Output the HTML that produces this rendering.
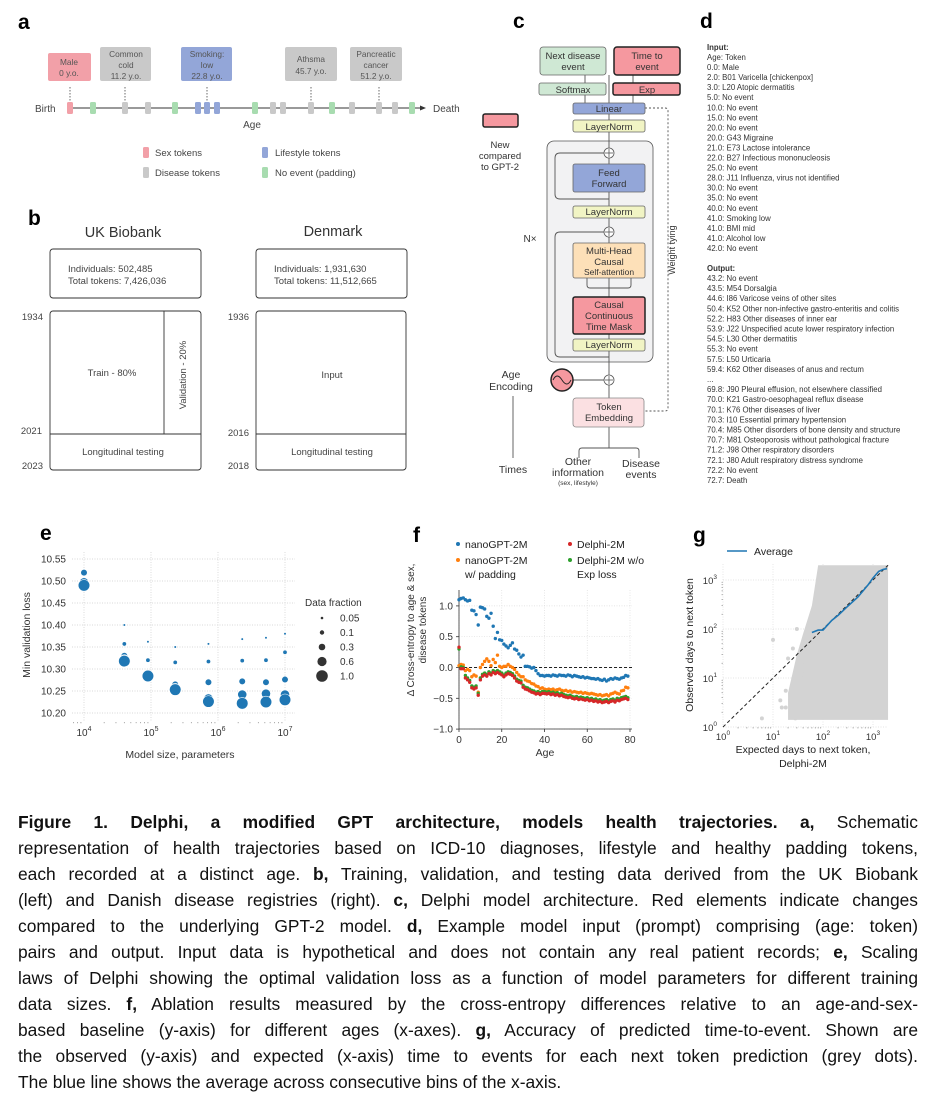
<!DOCTYPE html>
<html><head><meta charset="utf-8">
<style>
html,body{margin:0;padding:0;background:#fff;}
body{width:935px;height:1105px;position:relative;overflow:hidden;font-family:"Liberation Sans",sans-serif;}
svg{position:absolute;left:0;top:0;}
svg text{font-family:"Liberation Sans",sans-serif;}
#caption{position:absolute;left:18px;top:809px;width:900px;font-size:17.4px;line-height:26px;color:#111;}
#caption div{text-align:justify;text-align-last:justify;white-space:nowrap;}
#caption div.last{text-align-last:left;}
</style></head>
<body>
<svg id="fig" width="935" height="800" viewBox="0 0 935 800">
<!-- Panel a -->
<g>
<text x="18" y="29" font-size="21" font-weight="bold">a</text>
<g font-size="8.3" fill="#555" text-anchor="middle">
<rect x="48" y="53" width="43" height="28" rx="2" fill="#f2a0a8"/>
<text x="69" y="65">Male</text><text x="69" y="76">0 y.o.</text>
<rect x="100" y="47" width="51" height="34" rx="2" fill="#c9c9c9"/>
<text x="126" y="57">Common</text><text x="126" y="68">cold</text><text x="126" y="79">11.2 y.o.</text>
<rect x="181" y="47" width="51" height="34" rx="2" fill="#93a6d8"/>
<text x="207" y="57">Smoking:</text><text x="207" y="68">low</text><text x="207" y="79">22.8 y.o.</text>
<rect x="285" y="47" width="52" height="34" rx="2" fill="#c9c9c9"/>
<text x="311" y="62">Athsma</text><text x="311" y="74">45.7 y.o.</text>
<rect x="350" y="47" width="52" height="34" rx="2" fill="#c9c9c9"/>
<text x="376" y="57">Pancreatic</text><text x="376" y="68">cancer</text><text x="376" y="79">51.2 y.o.</text>
</g>
<g stroke="#444" stroke-width="0.8" stroke-dasharray="1.5,1.5">
<line x1="70" y1="87" x2="70" y2="102"/><line x1="125" y1="87" x2="125" y2="102"/><line x1="207" y1="87" x2="207" y2="102"/><line x1="311" y1="87" x2="311" y2="102"/><line x1="379" y1="87" x2="379" y2="102"/>
</g>
<line x1="70" y1="108" x2="422" y2="108" stroke="#333" stroke-width="1"/>
<polygon points="426,108 420,105.5 420,110.5" fill="#333"/>
<text x="35" y="112" font-size="10" fill="#444">Birth</text>
<text x="433" y="112" font-size="10" fill="#444">Death</text>
<text x="252" y="128" font-size="10" fill="#444" text-anchor="middle">Age</text>
<g id="tokens"></g>
<g font-size="9.5" fill="#444">
<rect x="143" y="147" width="6" height="11" rx="1.5" fill="#f2a0a8"/><text x="155" y="156">Sex tokens</text>
<rect x="143" y="167" width="6" height="11" rx="1.5" fill="#c9c9c9"/><text x="155" y="176">Disease tokens</text>
<rect x="262" y="147" width="6" height="11" rx="1.5" fill="#93a6d8"/><text x="275" y="156">Lifestyle tokens</text>
<rect x="262" y="167" width="6" height="11" rx="1.5" fill="#a8dcb0"/><text x="275" y="176">No event (padding)</text>
</g>
</g>
<!-- Panel b -->
<g fill="none" stroke="#333" stroke-width="0.9">
<text x="28" y="225" font-size="21" font-weight="bold" fill="#000" stroke="none">b</text>
<text x="123" y="237" font-size="14.5" fill="#333" stroke="none" text-anchor="middle">UK Biobank</text>
<text x="333" y="236" font-size="14.5" fill="#333" stroke="none" text-anchor="middle">Denmark</text>
<rect x="50" y="249" width="151" height="49" rx="3"/>
<rect x="256" y="249" width="151" height="49" rx="3"/>
<rect x="50" y="311" width="151" height="159" rx="3"/>
<rect x="256" y="311" width="150" height="159" rx="3"/>
<line x1="164" y1="311" x2="164" y2="434"/><line x1="50" y1="434" x2="201" y2="434"/>
<line x1="256" y1="434" x2="406" y2="434"/>
<g fill="#444" stroke="none" font-size="9.5">
<text x="68" y="272">Individuals: 502,485</text><text x="68" y="284">Total tokens: 7,426,036</text>
<text x="274" y="272">Individuals: 1,931,630</text><text x="274" y="284">Total tokens: 11,512,665</text>
<text x="43" y="320" text-anchor="end">1934</text><text x="42" y="434" text-anchor="end">2021</text><text x="43" y="469" text-anchor="end">2023</text>
<text x="249" y="320" text-anchor="end">1936</text><text x="249" y="236" text-anchor="end"></text><text x="249" y="436" text-anchor="end">2016</text><text x="249" y="469" text-anchor="end">2018</text>
<text x="112" y="376" text-anchor="middle">Train - 80%</text>
<text x="0" y="0" text-anchor="middle" transform="translate(186,375) rotate(-90)">Validation - 20%</text>
<text x="123" y="455" text-anchor="middle">Longitudinal testing</text>
<text x="332" y="378" text-anchor="middle">Input</text>
<text x="332" y="455" text-anchor="middle">Longitudinal testing</text>
</g>
</g>
<!-- Panel c -->
<g>
<text x="513" y="28" font-size="21" font-weight="bold">c</text>
<rect x="547" y="141" width="106" height="221" rx="7" fill="#f2f2f3" stroke="#555" stroke-width="0.8"/>
<g stroke="#555" stroke-width="0.9" fill="none">
<line x1="609" y1="75" x2="609" y2="448"/>
<line x1="585" y1="75" x2="585" y2="103"/><line x1="633" y1="75" x2="633" y2="103"/>
<path d="M604,153 H560 Q555,153 555,158 V194 Q555,199 560,199 H609"/>
<path d="M604,232 H560 Q555,232 555,237 V352 Q555,357 560,357 H609"/>
<path d="M587,278 V285 Q587,288 590,288 H628 Q631,288 631,285 V278"/>
<line x1="573" y1="380" x2="604" y2="380"/>
<path d="M645,108 H665 Q668,108 668,111 V408 Q668,411 665,411 H644" stroke-dasharray="2,2"/>
<path d="M579,458 V451 Q579,448 582,448 H636 Q639,448 639,451 V458"/>
<line x1="513" y1="396" x2="513" y2="458"/>
</g>
<g stroke="#555" stroke-width="0.8" fill="#fff">
<circle cx="609" cy="153" r="5"/><circle cx="609" cy="232" r="5"/><circle cx="609" cy="380" r="5"/>
</g>
<g stroke="#555" stroke-width="0.8"><line x1="605" y1="153" x2="613" y2="153"/><line x1="609" y1="149" x2="609" y2="157"/><line x1="605" y1="232" x2="613" y2="232"/><line x1="609" y1="228" x2="609" y2="236"/><line x1="605" y1="380" x2="613" y2="380"/><line x1="609" y1="376" x2="609" y2="384"/></g>
<g font-size="9.5" fill="#333" text-anchor="middle">
<rect x="540" y="47" width="66" height="28" rx="3" fill="#cfe8d4" stroke="#666" stroke-width="0.8"/><text x="573" y="59">Next disease</text><text x="573" y="70">event</text>
<rect x="614" y="47" width="66" height="28" rx="3" fill="#f5989f" stroke="#222" stroke-width="1.5"/><text x="647" y="59">Time to</text><text x="647" y="70">event</text>
<rect x="539" y="83" width="67" height="12" rx="2" fill="#cfe8d4" stroke="#666" stroke-width="0.8"/><text x="573" y="93">Softmax</text>
<rect x="613" y="83" width="67" height="12" rx="2" fill="#f5989f" stroke="#222" stroke-width="1.5"/><text x="647" y="93">Exp</text>
<rect x="573" y="103" width="72" height="11" rx="2" fill="#93a6d8" stroke="#666" stroke-width="0.8"/><text x="609" y="112">Linear</text>
<rect x="573" y="120" width="72" height="12" rx="2" fill="#f1f4c4" stroke="#666" stroke-width="0.8"/><text x="609" y="130">LayerNorm</text>
<rect x="573" y="164" width="72" height="28" rx="2" fill="#93a6d8" stroke="#666" stroke-width="0.8"/><text x="609" y="176">Feed</text><text x="609" y="187">Forward</text>
<rect x="573" y="206" width="72" height="12" rx="2" fill="#f1f4c4" stroke="#666" stroke-width="0.8"/><text x="609" y="215">LayerNorm</text>
<rect x="573" y="243" width="72" height="35" rx="2" fill="#fde0b8" stroke="#666" stroke-width="0.8"/><text x="609" y="254">Multi-Head</text><text x="609" y="265">Causal</text><text x="609" y="275" font-size="8.5">Self-attention</text>
<rect x="573" y="297" width="72" height="37" rx="2" fill="#f5989f" stroke="#222" stroke-width="1.5"/><text x="609" y="308">Causal</text><text x="609" y="319">Continuous</text><text x="609" y="330">Time Mask</text>
<rect x="573" y="339" width="72" height="12" rx="2" fill="#f1f4c4" stroke="#666" stroke-width="0.8"/><text x="609" y="348">LayerNorm</text>
<rect x="573" y="398" width="71" height="29" rx="3" fill="#fbe0e2" stroke="#888" stroke-width="0.8"/><text x="609" y="410">Token</text><text x="609" y="421">Embedding</text>
<rect x="483" y="114" width="35" height="13" rx="2" fill="#f5989f" stroke="#222" stroke-width="1.5"/>
<text x="500" y="148">New</text><text x="500" y="159">compared</text><text x="500" y="170">to GPT-2</text>
<text x="511" y="378" font-size="10.5">Age</text><text x="511" y="390" font-size="10.5">Encoding</text>
<text x="513" y="473" font-size="10.5">Times</text>
<text x="578" y="465" font-size="10.5">Other</text><text x="578" y="476" font-size="10.5">information</text><text x="578" y="485" font-size="6.5">(sex, lifestyle)</text>
<text x="641" y="467" font-size="10.5">Disease</text><text x="641" y="478" font-size="10.5">events</text>
<text x="530" y="242" font-size="10">N×</text>
<text x="0" y="0" font-size="9" transform="translate(675,250) rotate(-90)">Weight tying</text>
</g>
<circle cx="562" cy="380" r="11" fill="#f5989f" stroke="#222" stroke-width="1.5"/>
<path d="M553,380 Q557,372 562,380 T571,380" fill="none" stroke="#222" stroke-width="0.9"/>
</g>
<!-- Panel d -->
<g font-size="7.8" fill="#333">
<text x="700" y="28" font-size="21" font-weight="bold" fill="#000">d</text>
<g id="dtext"></g>
</g>
<!-- Panel e -->
<g id="panelE">
<text x="40" y="540" font-size="21" font-weight="bold">e</text>
</g>
<g id="panelF">
<text x="413" y="542" font-size="21" font-weight="bold">f</text>
</g>
<g id="panelG">
<text x="693" y="542" font-size="21" font-weight="bold">g</text>
</g>
</svg>

<div id="caption">
<div><b>Figure 1. Delphi, a modified GPT architecture, models health trajectories. a,</b> Schematic</div>
<div>representation of health trajectories based on ICD-10 diagnoses, lifestyle and healthy padding tokens,</div>
<div>each recorded at a distinct age. <b>b,</b> Training, validation, and testing data derived from the UK Biobank</div>
<div>(left) and Danish disease registries (right). <b>c,</b> Delphi model architecture. Red elements indicate changes</div>
<div>compared to the underlying GPT-2 model. <b>d,</b> Example model input (prompt) comprising (age: token)</div>
<div>pairs and output. Input data is hypothetical and does not contain any real patient records; <b>e,</b> Scaling</div>
<div>laws of Delphi showing the optimal validation loss as a function of model parameters for different training</div>
<div>data sizes. <b>f,</b> Ablation results measured by the cross-entropy differences relative to an age-and-sex-</div>
<div>based baseline (y-axis) for different ages (x-axes). <b>g,</b> Accuracy of predicted time-to-event. Shown are</div>
<div>the observed (y-axis) and expected (x-axis) time to events for each next token prediction (grey dots).</div>
<div class="last">The blue line shows the average across consecutive bins of the x-axis.</div>
</div>

<script>
// ---------- Panel a tokens ----------
const tokenX = [70,93,125,148,175,198,207,217,255,273,283,311,332,352,379,395,412];
const tokenType = ['sex','pad','dis','dis','pad','life','life','life','pad','dis','dis','dis','pad','dis','dis','dis','pad'];
// ---------- Panel d text ----------
const inputLines = ["Age: Token","0.0:   Male","2.0:   B01 Varicella [chickenpox]","3.0:   L20 Atopic dermatitis","5.0:   No event","10.0: No event","15.0: No event","20.0: No event","20.0: G43 Migraine","21.0: E73 Lactose intolerance","22.0: B27 Infectious mononucleosis","25.0: No event","28.0: J11 Influenza, virus not identified","30.0: No event","35.0: No event","40.0: No event","41.0: Smoking low","41.0: BMI mid","41.0: Alcohol low","42.0: No event"];
const outputLines = ["43.2: No event","43.5: M54 Dorsalgia","44.6: I86 Varicose veins of other sites","50.4: K52 Other non-infective gastro-enteritis and colitis","52.2: H83 Other diseases of inner ear","53.9: J22 Unspecified acute lower respiratory infection","54.5: L30 Other dermatitis","55.3: No event","57.5: L50 Urticaria","59.4: K62 Other diseases of anus and rectum","...","69.8: J90 Pleural effusion, not elsewhere classified","70.0: K21 Gastro-oesophageal reflux disease","70.1: K76 Other diseases of liver","70.3: I10 Essential primary hypertension","70.4: M85 Other disorders of bone density and structure","70.7: M81 Osteoporosis without pathological fracture","71.2: J98 Other respiratory disorders","72.1: J80 Adult respiratory distress syndrome","72.2: No event","72.7: Death"];
// ---------- Panel e data ----------
const eModelSizes = [1e4, 4e4, 9e4, 2.3e5, 7.2e5, 2.3e6, 5.2e6, 1e7];
const eFractions = [0.05, 0.1, 0.3, 0.6, 1.0];
const eLoss005 = [null, 10.400, 10.362, 10.350, 10.357, 10.368, 10.371, 10.380];
const eLoss01  = [null, 10.357, 10.320, 10.315, 10.317, 10.319, 10.320, 10.338];
const eLoss03  = [10.519, 10.330, 10.290, 10.265, 10.270, 10.272, 10.270, 10.276];
const eLoss06  = [10.497, 10.322, 10.288, 10.257, 10.233, 10.242, 10.244, 10.242];
const eLoss10  = [10.490, 10.318, 10.284, 10.253, 10.226, 10.222, 10.225, 10.230];
const eYTicks = ["10.55","10.50","10.45","10.40","10.35","10.30","10.25","10.20"];
const eXTicks = [4,5,6,7];
// ---------- Panel f data ----------
const fAges = [0,1,2,3,4,5,6,7,8,9,10,11,12,13,14,15,16,17,18,19,20,21,22,23,24,25,26,27,28,29,30,31,32,33,34,35,36,37,38,39,40,41,42,43,44,45,46,47,48,49,50,51,52,53,54,55,56,57,58,59,60,61,62,63,64,65,66,67,68,69,70,71,72,73,74,75,76,77,78,79];
const fNano = [1.10,1.12,1.13,1.10,1.08,1.09,0.93,0.92,0.86,0.69,0.98,0.97,0.95,0.83,0.80,0.88,0.67,0.47,0.57,0.45,0.44,0.38,0.35,0.32,0.36,0.40,0.30,0.28,0.22,0.17,0.20,0.02,0.02,0.01,-0.01,0.00,-0.05,-0.10,-0.13,-0.13,-0.14,-0.13,-0.13,-0.14,-0.12,-0.13,-0.14,-0.12,-0.13,-0.13,-0.14,-0.12,-0.13,-0.15,-0.13,-0.14,-0.15,-0.16,-0.15,-0.17,-0.16,-0.17,-0.18,-0.18,-0.19,-0.18,-0.20,-0.21,-0.19,-0.22,-0.20,-0.18,-0.19,-0.17,-0.18,-0.19,-0.17,-0.16,-0.13,-0.14];
const fNanoPad = [0.03,0.05,0.04,-0.05,-0.03,-0.05,-0.15,-0.12,-0.14,-0.40,0.00,0.05,0.10,0.14,0.10,0.03,0.13,0.08,0.20,0.02,0.00,0.02,0.02,0.05,0.02,0.00,-0.03,-0.08,-0.12,-0.15,-0.15,-0.20,-0.22,-0.23,-0.26,-0.27,-0.30,-0.31,-0.34,-0.33,-0.35,-0.36,-0.35,-0.36,-0.35,-0.37,-0.36,-0.35,-0.37,-0.38,-0.37,-0.39,-0.38,-0.40,-0.39,-0.40,-0.41,-0.40,-0.42,-0.41,-0.42,-0.43,-0.42,-0.43,-0.44,-0.45,-0.44,-0.46,-0.45,-0.44,-0.46,-0.43,-0.42,-0.40,-0.42,-0.43,-0.38,-0.37,-0.32,-0.33];
const fDelphi = [0.33,-0.02,-0.02,-0.17,-0.20,-0.24,-0.33,-0.35,-0.33,-0.45,-0.20,-0.14,-0.12,-0.14,-0.10,-0.12,-0.08,-0.10,-0.08,-0.10,-0.12,-0.15,-0.12,-0.10,-0.11,-0.13,-0.17,-0.22,-0.24,-0.25,-0.32,-0.35,-0.36,-0.38,-0.40,-0.41,-0.43,-0.42,-0.44,-0.42,-0.42,-0.43,-0.42,-0.44,-0.43,-0.45,-0.44,-0.46,-0.45,-0.47,-0.48,-0.49,-0.48,-0.50,-0.51,-0.50,-0.52,-0.51,-0.52,-0.53,-0.52,-0.54,-0.53,-0.55,-0.54,-0.56,-0.55,-0.57,-0.56,-0.55,-0.57,-0.55,-0.54,-0.56,-0.53,-0.54,-0.52,-0.51,-0.50,-0.52];
const fDelphiNoExp = [0.30,0.01,0.00,-0.13,-0.17,-0.21,-0.30,-0.32,-0.30,-0.42,-0.17,-0.11,-0.09,-0.11,-0.07,-0.09,-0.05,-0.07,-0.05,-0.07,-0.09,-0.12,-0.09,-0.07,-0.08,-0.10,-0.14,-0.19,-0.21,-0.22,-0.29,-0.32,-0.33,-0.35,-0.37,-0.38,-0.40,-0.39,-0.41,-0.39,-0.39,-0.40,-0.39,-0.41,-0.40,-0.42,-0.41,-0.43,-0.42,-0.44,-0.45,-0.46,-0.45,-0.47,-0.48,-0.47,-0.49,-0.48,-0.49,-0.50,-0.49,-0.51,-0.50,-0.52,-0.51,-0.53,-0.52,-0.54,-0.53,-0.52,-0.54,-0.52,-0.51,-0.53,-0.50,-0.51,-0.49,-0.48,-0.47,-0.49];
const fYTicks = [1.0,0.5,0.0,-0.5,-1.0];
const fXTicks = [0,20,40,60,80];
// ---------- Panel g data ----------
const gAvgX = [60,80,100,150,200,300,500,800,1000,1300,1600,1900];
const gAvgY = [85,95,95,150,190,280,450,800,1100,1500,1650,1700];
const gCloudX = [20,30,40,60,80,2000];
const gCloudTop = [5,30,80,300,2000,2000];
const gCloudBottom = [1.4,1.4,1.4,1.4,1.4,1.4];
const gOutX = [6,10,14,18,20,25,28,30,35,40,45,18,22,15];
const gOutY = [1.5,60,3.5,2.5,25,40,1.5,100,8,12,20,5.5,3.5,2.5];
const gTicks = [0,1,2,3];

const NS = "http://www.w3.org/2000/svg";
function mk(tag, attrs, parent){ const el=document.createElementNS(NS,tag); for(const k in attrs) el.setAttribute(k,attrs[k]); parent.appendChild(el); return el; }
function txt(x,y,s,attrs,parent){ const t=mk('text',Object.assign({x:x,y:y},attrs),parent); t.textContent=s; return t; }

// panel a tokens
const tokColors={sex:'#f2a0a8',pad:'#a8dcb0',dis:'#c9c9c9',life:'#93a6d8'};
const tg=document.getElementById('tokens');
tokenX.forEach((x,i)=>{
  const r=mk('rect',{x:x-3,y:102,width:6,height:12,rx:1.5,fill:tokColors[tokenType[i]]},tg);
  
  
});

// panel d
const dg=document.getElementById('dtext');
const h1=txt(707,50,"Input:",{'font-weight':'bold'},dg);
inputLines.forEach((s,i)=>txt(707,60+i*10.05,s,{},dg));
const h2=txt(707,271,"Output:",{'font-weight':'bold'},dg);
outputLines.forEach((s,i)=>txt(707,281+i*10.1,s,{},dg));

// panel e
(function(){
  const g=document.getElementById('panelE');
  const X=v=>84+(Math.log10(v)-4)*67;
  const Y=v=>713-(v-10.20)/0.05*22;
  const x0=72,x1=295,y0=552,y1=722;
  eYTicks.forEach(s=>{const y=Y(parseFloat(s));
    mk('line',{x1:x0,x2:x1,y1:y,y2:y,stroke:'#ccc','stroke-width':0.7,'stroke-dasharray':'1,1.5'},g);
    txt(66,y+3.5,s,{'font-size':10,'text-anchor':'end',fill:'#333'},g);});
  eXTicks.forEach(p=>{const x=X(Math.pow(10,p));
    mk('line',{x1:x,x2:x,y1:y0,y2:y1,stroke:'#ccc','stroke-width':0.7,'stroke-dasharray':'1,1.5'},g);
    const t=txt(x,736,'10',{'font-size':10,'text-anchor':'middle',fill:'#333'},g);
    const ts=mk('tspan',{dy:-5,'font-size':7},t); ts.textContent=p;});
  for(let p=3;p<7;p++){for(let m=2;m<10;m++){const x=X(m*Math.pow(10,p)); if(x<x0||x>x1)continue;
    mk('line',{x1:x,x2:x,y1:y1,y2:y1+1.2,stroke:'#999','stroke-width':0.8},g);}}
  txt(180,758,'Model size, parameters',{'font-size':10.5,'text-anchor':'middle',fill:'#333'},g);
  txt(0,0,'Min validation loss',{'font-size':10.5,'text-anchor':'middle',fill:'#333',transform:'translate(30,635) rotate(-90)'},g);
  const radii=[1.3,2.2,3.3,4.6,5.8];
  const series=[eLoss005,eLoss01,eLoss03,eLoss06,eLoss10];
  series.forEach((arr,si)=>{arr.forEach((v,i)=>{ if(v===null)return;
    const c=mk('circle',{cx:X(eModelSizes[i]),cy:Y(v),r:radii[si],fill:'#1f77b4',stroke:'#fff','stroke-width':0.6},g);
    
    });});
  txt(305,606,'Data fraction',{'font-size':10,fill:'#333'},g);
  eFractions.forEach((f,i)=>{const y=618+i*14.5;
    mk('circle',{cx:322,cy:y,r:radii[i],fill:'#333'},g);
    txt(340,y+3.5,f.toFixed(f<0.1?2:1),{'font-size':10,fill:'#333'},g);});
})();

// panel f
(function(){
  const g=document.getElementById('panelF');
  const X=v=>459+v/80*171;
  const Y=v=>667.5-v*61.6;
  const x0=459,x1=632,y0=590,y1=729;
  fYTicks.forEach(v=>{const y=Y(v);
    mk('line',{x1:x0,x2:x1,y1:y,y2:y,stroke:'#ddd','stroke-width':0.7,'stroke-dasharray':'1,1.5'},g);
    mk('line',{x1:x0-3,x2:x0,y1:y,y2:y,stroke:'#333','stroke-width':0.8},g);
    txt(453,y+3.5,(v<0?'\u2212':'')+Math.abs(v).toFixed(1),{'font-size':10,'text-anchor':'end',fill:'#333'},g);});
  fXTicks.forEach(v=>{const x=X(v);
    mk('line',{x1:x,x2:x,y1:y0,y2:y1,stroke:'#ddd','stroke-width':0.7,'stroke-dasharray':'1,1.5'},g);
    mk('line',{x1:x,x2:x,y1:y1,y2:y1+3,stroke:'#333','stroke-width':0.8},g);
    txt(x,743,String(v),{'font-size':10,'text-anchor':'middle',fill:'#333'},g);});
  mk('line',{x1:x0,x2:x0,y1:y0,y2:y1,stroke:'#333','stroke-width':0.8},g);
  mk('line',{x1:x0,x2:x1,y1:y1,y2:y1,stroke:'#333','stroke-width':0.8},g);
  mk('line',{x1:x0,x2:x1,y1:Y(0),y2:Y(0),stroke:'#222','stroke-width':0.9,'stroke-dasharray':'3,2'},g);
  txt(545,756,'Age',{'font-size':10.5,'text-anchor':'middle',fill:'#333'},g);
  txt(0,0,'\u0394 Cross-entropy to age & sex,',{'font-size':10,'text-anchor':'middle',fill:'#333',transform:'translate(414,630) rotate(-90)'},g);
  txt(0,0,'disease tokens',{'font-size':10,'text-anchor':'middle',fill:'#333',transform:'translate(426,630) rotate(-90)'},g);
  const ser=[[fNano,'#1f77b4','nano'],[fNanoPad,'#ff7f0e','nano-pad'],[fDelphiNoExp,'#2ca02c','delphi-noexp'],[fDelphi,'#d62728','delphi']];
  ser.forEach(([arr,col,nm])=>{arr.forEach((v,i)=>{
    const c=mk('circle',{cx:X(fAges[i]),cy:Y(v),r:1.7,fill:col},g);
    
    });});
  const L=[[458,544,'#1f77b4',['nanoGPT-2M']],[458,560,'#ff7f0e',['nanoGPT-2M','w/ padding']],[570,544,'#d62728',['Delphi-2M']],[570,560,'#2ca02c',['Delphi-2M w/o','Exp loss']]];
  L.forEach(([x,y,c,lines])=>{mk('circle',{cx:x,cy:y,r:2,fill:c},g);
    lines.forEach((s,k)=>txt(x+7,y+4+k*14,s,{'font-size':10.5,fill:'#222'},g));});
})();

// panel g
(function(){
  const g=document.getElementById('panelG');
  const X=v=>723+Math.log10(v)*50;
  const Y=v=>727-Math.log10(v)*49;
  const x0=723,x1=887,y0=564,y1=727;
  gTicks.forEach(p=>{const v=Math.pow(10,p);
    mk('line',{x1:X(v),x2:X(v),y1:y0,y2:y1,stroke:'#ddd','stroke-width':0.7,'stroke-dasharray':'1,1.5'},g);
    mk('line',{x1:x0,x2:x1,y1:Y(v),y2:Y(v),stroke:'#ddd','stroke-width':0.7,'stroke-dasharray':'1,1.5'},g);
    let t=txt(X(v),740,'10',{'font-size':9.5,'text-anchor':'middle',fill:'#333'},g);
    let ts=mk('tspan',{dy:-5,'font-size':6.5},t); ts.textContent=p;
    t=txt(717,Y(v)+4,'10',{'font-size':9.5,'text-anchor':'end',fill:'#333'},g);
    ts=mk('tspan',{dy:-5,'font-size':6.5},t); ts.textContent=p;});
  let pts=gCloudX.map((x,i)=>X(x)+','+Y(gCloudTop[i]));
  for(let i=gCloudX.length-1;i>=0;i--) pts.push(X(gCloudX[i])+','+Y(gCloudBottom[i]));
  const cl=mk('polygon',{points:pts.join(' '),fill:'#d3d3d3'},g);
  
  
  gOutX.forEach((x,i)=>{const c=mk('circle',{cx:X(x),cy:Y(gOutY[i]),r:2,fill:'#d3d3d3'},g);
    
    });
  mk('line',{x1:X(1),y1:Y(1),x2:X(2000),y2:Y(2000),stroke:'#222','stroke-width':1,'stroke-dasharray':'3.5,2.5'},g);
  const av=mk('polyline',{points:gAvgX.map((x,i)=>X(x)+','+Y(gAvgY[i])).join(' '),fill:'none',stroke:'#1f77b4','stroke-width':1.6},g);
  
  
  for(let p=0;p<4;p++){for(let m=2;m<10;m++){const v=m*Math.pow(10,p); if(X(v)>x1)continue;
    mk('line',{x1:X(v),x2:X(v),y1:y1,y2:y1+1.5,stroke:'#999','stroke-width':0.7},g);
    mk('line',{x1:x0-1.5,x2:x0,y1:Y(v),y2:Y(v),stroke:'#999','stroke-width':0.7},g);}}
  mk('line',{x1:727,x2:747,y1:551,y2:551,stroke:'#1f77b4','stroke-width':1.6},g);
  txt(754,555,'Average',{'font-size':10.5,fill:'#222'},g);
  txt(803,753,'Expected days to next token,',{'font-size':10.5,'text-anchor':'middle',fill:'#222'},g);
  txt(803,767,'Delphi-2M',{'font-size':10.5,'text-anchor':'middle',fill:'#222'},g);
  txt(0,0,'Observed days to next token',{'font-size':10.5,'text-anchor':'middle',fill:'#222',transform:'translate(693,645) rotate(-90)'},g);
})();
</script>
</body></html>
